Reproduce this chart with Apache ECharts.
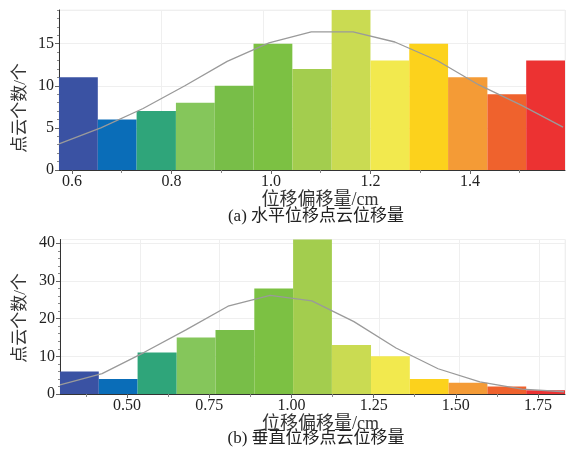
<!DOCTYPE html>
<html><head><meta charset="utf-8">
<script src="https://cdn.jsdelivr.net/npm/echarts@6/dist/echarts.min.js"></script>
<style>html,body{margin:0;padding:0;background:#fff}#c{width:575px;height:453px}</style>
</head><body><div id="c"></div>
<script>
// Colours shared by both histograms
const barColors = ['#3a52a3','#0a6db8','#2fa57a','#85c65b','#78be48','#7cc143','#a3cd4e','#cadb52','#f2e94e','#fcd21c','#f49b36','#ef622d','#ec3232'];

// (a) horizontal displacement
const topEdges = [0.574,0.652,0.730,0.809,0.887,0.965,1.043,1.122,1.200,1.278,1.356,1.435,1.513,1.591];
const topCounts = [11,6,7,8,10,15,12,19,13,15,11,9,13];
const topCurveX = [0.574,0.658,0.743,0.827,0.912,0.996,1.081,1.165,1.249,1.334,1.418,1.503,1.587];
const topCurveY = [3.1,5.0,7.3,10.0,12.9,15.1,16.4,16.4,15.2,13.0,10.1,7.7,5.1];
const topXTicks = [0.6,0.8,1.0,1.2,1.4];
const topXMinor = [0.7,0.9,1.1,1.3,1.5];
const topYTicks = [0,5,10,15];
const topYMinor = [1,2,3,4,6,7,8,9,11,12,13,14,16,17,18,19];

// (b) vertical displacement
const botEdges = [0.296,0.414,0.532,0.651,0.769,0.887,1.005,1.123,1.242,1.360,1.478,1.596,1.714,1.832];
const botCounts = [6,4,11,15,17,28,41,13,10,4,3,2,1];
const botCurveX = [0.296,0.424,0.551,0.679,0.807,0.935,1.062,1.190,1.318,1.446,1.573,1.701,1.829];
const botCurveY = [2.4,5.4,11.0,17.0,23.3,26.2,24.7,19.2,12.2,6.7,3.2,1.3,0.6];
const botXTicks = [0.50,0.75,1.00,1.25,1.50,1.75];
const botXMinor = [0.375,0.625,0.875,1.125,1.375,1.625];
const botYTicks = [0,10,20,30,40];
const botYMinor = [2,4,6,8,12,14,16,18,22,24,26,28,32,34,36,38];

const xLabelText = '位移偏移量/cm';
const yLabelText = '点云个数/个';
const captionA = '(a) 水平位移点云位移量';
const captionB = '(b) 垂直位移点云位移量';

const FONT = '"Liberation Serif","Noto Sans CJK SC",serif';
const axisCol = '#333';

function histData(edges, counts){
  return counts.map((c,i)=>[edges[i], edges[i+1], c]);
}
function renderBar(params, api){
  const x0 = api.value(0), x1 = api.value(1), v = api.value(2);
  const p0 = api.coord([x0, v]);
  const p1 = api.coord([x1, 0]);
  return {type:'rect', shape:{x:p0[0], y:p0[1], width:p1[0]-p0[0], height:p1[1]-p0[1]},
          style:{fill: barColors[params.dataIndex]}};
}
function mainX(gi, edges, ticks, fmt, gap){
  return {type:'value', gridIndex:gi, min:edges[0], max:edges[edges.length-1],
    name:xLabelText, nameLocation:'middle', nameGap:gap,
    nameTextStyle:{fontFamily:FONT, fontSize:18, color:'#333', padding:[0,0,0,16]},
    axisLine:{show:true, lineStyle:{color:axisCol, width:1}},
    axisTick:{show:true, customValues:ticks, length:4, lineStyle:{color:'#666'}},
    axisLabel:{customValues:ticks, fontFamily:FONT, fontSize:16, color:'#222', margin:4, formatter:v=>v.toFixed(fmt)},
    splitLine:{show:false}};
}
function minorX(gi, edges, minor){
  return {type:'value', gridIndex:gi, min:edges[0], max:edges[edges.length-1], position:'bottom',
    axisLine:{show:false}, axisLabel:{show:false}, splitLine:{show:false},
    axisTick:{show:true, customValues:minor, length:3, lineStyle:{color:'#888'}}};
}
function gridX(gi, edges, ticks){
  return {type:'value', gridIndex:gi, min:edges[0], max:edges[edges.length-1], position:'bottom',
    axisLine:{show:false}, axisLabel:{show:false}, axisTick:{show:false},
    splitLine:{show:true, lineStyle:{color:'#efefef', width:1}}, interval: ticks[1]-ticks[0]};
}
function mainY(gi, max, ticks){
  return {type:'value', gridIndex:gi, min:0, max:max,
    axisLine:{show:true, lineStyle:{color:axisCol, width:1}},
    axisTick:{show:true, customValues:ticks, length:4, lineStyle:{color:'#666'}},
    axisLabel:{customValues:ticks, fontFamily:FONT, fontSize:16, color:'#222', margin:5},
    splitLine:{show:false}};
}
function minorY(gi, max, minor){
  return {type:'value', gridIndex:gi, min:0, max:max, position:'left',
    axisLine:{show:false}, axisLabel:{show:false}, splitLine:{show:false},
    axisTick:{show:true, customValues:minor, length:2, lineStyle:{color:'#888'}}};
}
function gridY(gi, max, step){
  return {type:'value', gridIndex:gi, min:0, max:max, interval:step, position:'left',
    axisLine:{show:false}, axisLabel:{show:false}, axisTick:{show:false},
    splitLine:{show:true, lineStyle:{color:'#efefef', width:1}}};
}

const chart = echarts.init(document.getElementById('c'), null, {renderer:'canvas'});
chart.setOption({
  animation:false,
  backgroundColor:'#fff',
  grid:[
    {left:59, right:10, top:10, height:160, show:true, borderColor:'#f2f2f2', borderWidth:1},
    {left:60, right:10, top:239.5, height:154.5, show:true, borderColor:'#f2f2f2', borderWidth:1}
  ],
  xAxis:[
    mainX(0, topEdges, topXTicks, 1, 21), minorX(0, topEdges, topXMinor), gridX(0, [0.6, 1.591], [0.6,0.8]),
    mainX(1, botEdges, botXTicks, 2, 19), minorX(1, botEdges, botXMinor), gridX(1, [0.25, 1.832], [0.25,0.5])
  ],
  yAxis:[
    mainY(0, 19, topYTicks), minorY(0, 19, topYMinor), gridY(0, 19, 5),
    mainY(1, 41, botYTicks), minorY(1, 41, botYMinor), gridY(1, 41, 10)
  ],
  series:[
    {type:'custom', xAxisIndex:0, yAxisIndex:0, renderItem:renderBar, encode:{x:[0,1], y:2},
     data:histData(topEdges, topCounts), z:2},
    {type:'line', xAxisIndex:0, yAxisIndex:0, data:topCurveX.map((x,i)=>[x, topCurveY[i]]),
     symbol:'none', lineStyle:{color:'#9a9a9a', width:1.3}, z:3},
    {type:'custom', xAxisIndex:3, yAxisIndex:3, renderItem:renderBar, encode:{x:[0,1], y:2},
     data:histData(botEdges, botCounts), z:2},
    {type:'line', xAxisIndex:3, yAxisIndex:3, data:botCurveX.map((x,i)=>[x, botCurveY[i]]),
     symbol:'none', lineStyle:{color:'#9a9a9a', width:1.3}, z:3}
  ],
  graphic:[
    {type:'text', x:316, y:217, style:{text:captionA, font:'17px '+FONT, fill:'#222', textAlign:'center', textVerticalAlign:'middle'}},
    {type:'text', x:316, y:439, style:{text:captionB, font:'17px '+FONT, fill:'#222', textAlign:'center', textVerticalAlign:'middle'}},
    {type:'text', x:21, y:108, rotation:Math.PI/2, style:{text:yLabelText, font:'17px '+FONT, fill:'#333', textAlign:'center', textVerticalAlign:'middle'}},
    {type:'text', x:21, y:318, rotation:Math.PI/2, style:{text:yLabelText, font:'17px '+FONT, fill:'#333', textAlign:'center', textVerticalAlign:'middle'}}
  ]
});
</script></body></html>
